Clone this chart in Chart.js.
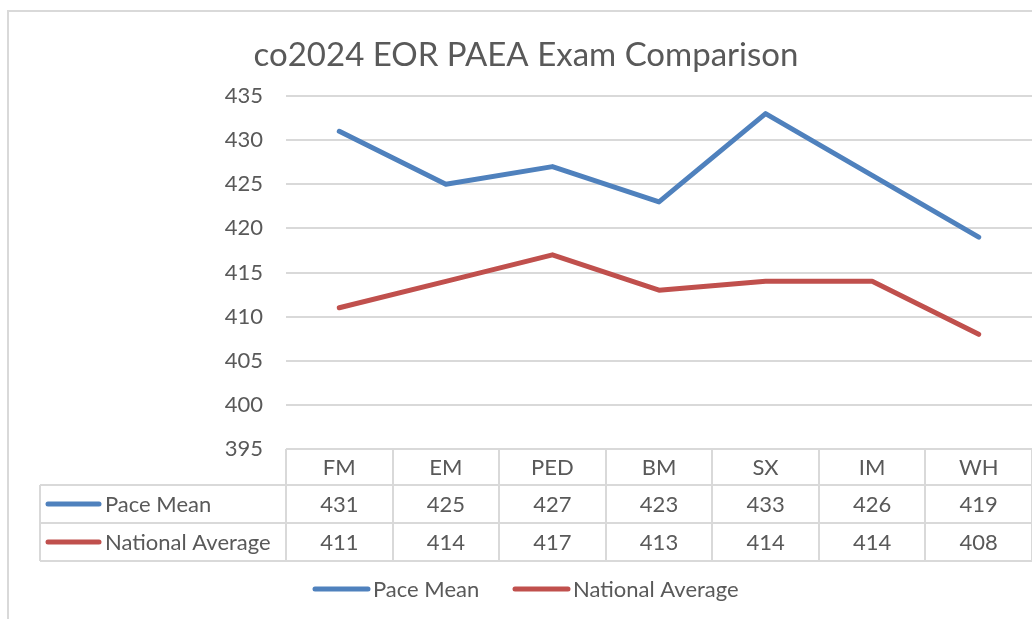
<!DOCTYPE html>
<html>
<head>
<meta charset="utf-8">
<script src="https://cdn.jsdelivr.net/npm/chart.js@4"></script>
<style>
  html, body { margin: 0; padding: 0; background: #fff; overflow: hidden; }
  #c { display: block; }
</style>
</head>
<body>
<canvas id="c" width="1032" height="619"></canvas>
<script>
const titleText  = 'co2024 EOR PAEA Exam Comparison';
const categories = ['FM', 'EM', 'PED', 'BM', 'SX', 'IM', 'WH'];
const paceMean   = [431, 425, 427, 423, 433, 426, 419];
const nationalAv = [411, 414, 417, 413, 414, 414, 408];
const seriesNames = ['Pace Mean', 'National Average'];
const seriesColors = ['#4f81bd', '#c0504d'];
const yMin = 395, yMax = 435, yStep = 5;

const FONT  = 'Lato, "Open Sans", sans-serif';
const TEXT  = '#595959';
const GRID  = '#d9d9d9';

// draws title, data table under the plot, legend and the chart frame
const tablePlugin = {
  id: 'dataTable',
  afterDraw(chart) {
    const ctx = chart.ctx;
    const x = chart.scales.x;
    const area = chart.chartArea;
    const n = categories.length;
    const colW = (x.getPixelForValue(1) - x.getPixelForValue(0));
    const top = area.bottom;
    const rows = [top, 485, 523, 561];
    const labelLeft = 40;

    ctx.save();
    // frame
    ctx.strokeStyle = GRID;
    ctx.lineWidth = 2;
    ctx.beginPath();
    ctx.moveTo(8, 640);
    ctx.lineTo(8, 11);
    ctx.lineTo(1040, 11);
    ctx.stroke();

    // title
    ctx.fillStyle = TEXT;
    ctx.font = `33px ${FONT}`;
    ctx.textAlign = 'center';
    ctx.textBaseline = 'middle';
    ctx.fillText(titleText, 526, 55);

    // table grid
    ctx.strokeStyle = GRID;
    ctx.lineWidth = 2;
    ctx.beginPath();
    ctx.moveTo(area.left, rows[0]); ctx.lineTo(area.right + 2, rows[0]);
    for (let r = 1; r < rows.length; r++) {
      ctx.moveTo(labelLeft, rows[r]); ctx.lineTo(area.right + 2, rows[r]);
    }
    ctx.moveTo(labelLeft, rows[1]); ctx.lineTo(labelLeft, rows[3]);
    for (let i = 0; i <= n; i++) {
      const bx = Math.round(x.getPixelForValue(i) - colW / 2);
      ctx.moveTo(bx, rows[0]); ctx.lineTo(bx, rows[3]);
    }
    ctx.stroke();

    // table text
    ctx.fillStyle = TEXT;
    ctx.font = `22px ${FONT}`;
    ctx.textAlign = 'center';
    const seriesData = [paceMean, nationalAv];
    categories.forEach((c, i) => {
      const cx = x.getPixelForValue(i);
      ctx.fillText(c, cx, (rows[0] + rows[1]) / 2 + 1);
      seriesData.forEach((d, s) => {
        ctx.fillText(String(d[i]), cx, (rows[s + 1] + rows[s + 2]) / 2 + 1);
      });
    });

    // legend keys inside table
    ctx.lineCap = 'round';
    ctx.lineWidth = 5;
    ctx.textAlign = 'left';
    seriesNames.forEach((name, s) => {
      const cy = (rows[s + 1] + rows[s + 2]) / 2;
      ctx.strokeStyle = seriesColors[s];
      ctx.beginPath();
      ctx.moveTo(48, cy); ctx.lineTo(99, cy);
      ctx.stroke();
      ctx.fillStyle = TEXT;
      ctx.fillText(name, 105, cy + 1);
    });

    // bottom legend
    const legX = [315, 515];
    seriesNames.forEach((name, s) => {
      ctx.strokeStyle = seriesColors[s];
      ctx.beginPath();
      ctx.moveTo(legX[s], 589); ctx.lineTo(legX[s] + 53, 589);
      ctx.stroke();
      ctx.fillStyle = TEXT;
      ctx.fillText(name, legX[s] + 58, 590);
    });
    ctx.restore();
  }
};

new Chart(document.getElementById('c').getContext('2d'), {
  type: 'line',
  data: {
    labels: categories,
    datasets: seriesNames.map((name, s) => ({
      label: name,
      data: [paceMean, nationalAv][s],
      borderColor: seriesColors[s],
      backgroundColor: seriesColors[s],
      borderWidth: 5,
      pointRadius: 0,
      tension: 0,
      borderCapStyle: 'round',
      borderJoinStyle: 'round',
    })),
  },
  options: {
    responsive: false,
    animation: false,
    layout: { padding: { top: 96, bottom: 170, left: 0, right: 0 } },
    plugins: { legend: { display: false }, title: { display: false }, tooltip: { enabled: false } },
    scales: {
      x: { display: false, offset: true },
      y: {
        min: yMin, max: yMax,
        afterFit(scale) { scale.width = 286; },
        border: { display: false },
        grid: { color: GRID, lineWidth: 2, drawTicks: false },
        ticks: { stepSize: yStep, padding: 23, color: TEXT, font: { family: FONT, size: 22 } },
      },
    },
  },
  plugins: [tablePlugin],
});
</script>
</body>
</html>
